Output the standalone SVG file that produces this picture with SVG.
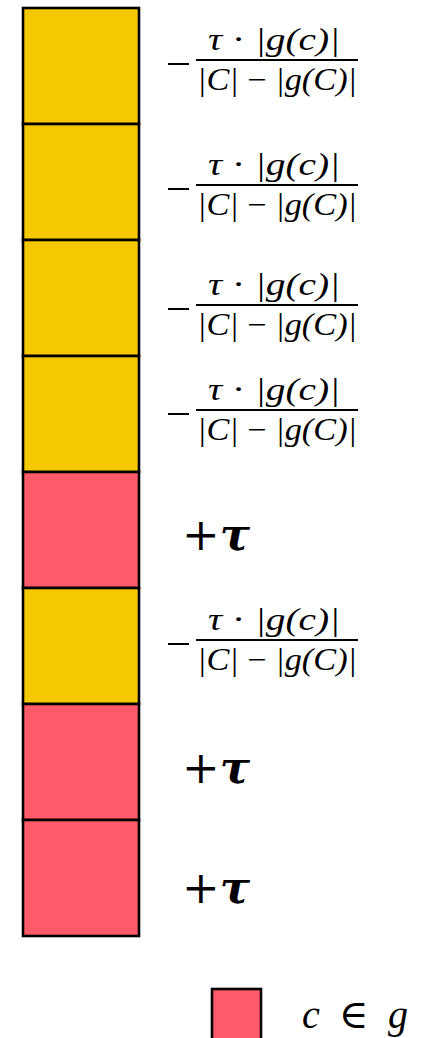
<svg xmlns="http://www.w3.org/2000/svg" width="429" height="1038" viewBox="0 0 429 1038">
<style>
.y{fill:#F5C800;stroke:#000;stroke-width:2.6}
.r{fill:#FF5A69;stroke:#000;stroke-width:2.6}
.m{font-family:"Liberation Serif","DejaVu Serif",serif;font-style:italic;font-size:31px;fill:#000}
.bar{stroke:#000;stroke-width:2}
.pt{font-family:"DejaVu Serif",serif;font-size:45px;fill:#000}
.lg{font-family:"Liberation Serif","DejaVu Serif",serif;font-style:italic;font-size:40px;fill:#000}
</style>
<defs>
<g id="frac">
<line class="bar" x1="168" y1="4" x2="189" y2="4"/>
<line class="bar" x1="196" y1="0" x2="358" y2="0"/>
<text class="m" x="274" y="-10" text-anchor="middle" textLength="132" lengthAdjust="spacingAndGlyphs">τ <tspan font-style="normal">·</tspan> |g(c)|</text>
<text class="m" x="277" y="30" text-anchor="middle" textLength="160" lengthAdjust="spacingAndGlyphs">|C| <tspan font-style="normal">−</tspan> |g(C)|</text>
</g>
<g id="plus">
<text class="pt" x="182" y="0"><tspan>+</tspan><tspan font-weight="bold" font-style="italic">τ</tspan></text>
</g>
</defs>
<g id="cell1"><rect class="y" x="23" y="8" width="116" height="116"/><use href="#frac" y="60"/></g>
<g id="cell2"><rect class="y" x="23" y="124" width="116" height="116"/><use href="#frac" y="185"/></g>
<g id="cell3"><rect class="y" x="23" y="240" width="116" height="116"/><use href="#frac" y="305"/></g>
<g id="cell4"><rect class="y" x="23" y="356" width="116" height="116"/><use href="#frac" y="410"/></g>
<g id="cell5"><rect class="r" x="23" y="472" width="116" height="116"/><use href="#plus" y="550"/></g>
<g id="cell6"><rect class="y" x="23" y="588" width="116" height="116"/><use href="#frac" y="640"/></g>
<g id="cell7"><rect class="r" x="23" y="704" width="116" height="116"/><use href="#plus" y="783"/></g>
<g id="cell8"><rect class="r" x="23" y="820" width="116" height="116"/><use href="#plus" y="903"/></g>
<g id="connectors"/>
<g id="legend">
<rect class="r" x="212" y="989" width="49" height="52"/>
<text class="lg" x="302" y="1028" textLength="106" lengthAdjust="spacing">c <tspan font-style="normal">∈</tspan> g</text>
</g>
</svg>
